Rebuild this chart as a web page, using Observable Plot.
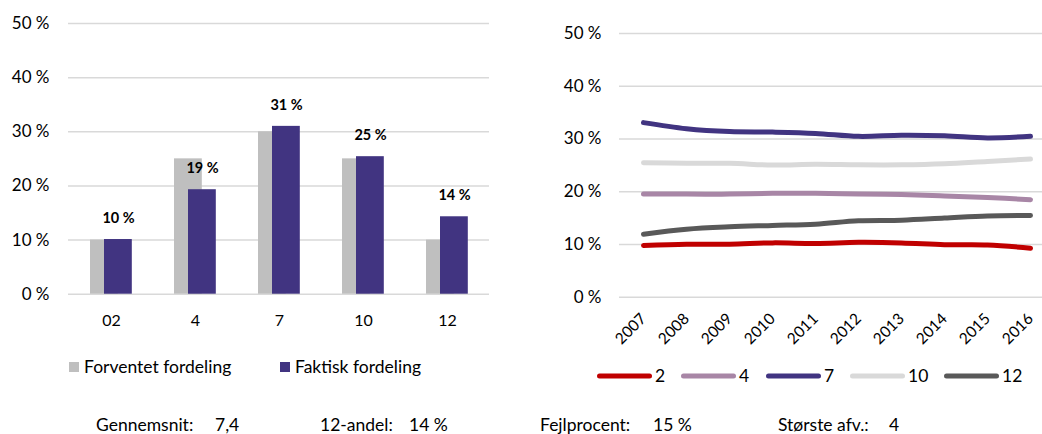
<!DOCTYPE html>
<html>
<head>
<meta charset="utf-8">
<script src="https://cdn.jsdelivr.net/npm/d3@7"></script>
<script src="https://cdn.jsdelivr.net/npm/@observablehq/plot@0.6"></script>
<style>
  html, body { margin: 0; padding: 0; background: #fff; }
  #wrap { position: relative; width: 1042px; height: 434px; overflow: hidden; font-family: Lato, "Noto Sans", sans-serif; color: #000; }
  .abs { position: absolute; }
  .txt { position: absolute; font-size: 17.5px; line-height: 1; white-space: nowrap; transform: translateY(-50%); }
  .sq { position: absolute; width: 10px; height: 10px; transform: translateY(-50%); }
  .ln { position: absolute; height: 5px; border-radius: 3px; transform: translateY(-50%); }
</style>
</head>
<body>
<div id="wrap"></div>
<script>
// ---------- data ----------
const grades = ["02", "4", "7", "10", "12"];
const expected = [10, 25, 30, 25, 10];
const actual = [10.1, 19.3, 31.0, 25.4, 14.3];
const actualLabels = ["10 %", "19 %", "31 %", "25 %", "14 %"];

const years = [2007, 2008, 2009, 2010, 2011, 2012, 2013, 2014, 2015, 2016];
const seriesNames = ["2", "4", "7", "10", "12"];
const s2 = [9.8, 10.05, 10.05, 10.3, 10.2, 10.4, 10.3, 9.95, 9.9, 9.3];
const s4 = [19.55, 19.55, 19.55, 19.7, 19.7, 19.55, 19.45, 19.2, 18.9, 18.5];
const s7 = [33.1, 31.95, 31.4, 31.3, 31.06, 30.5, 30.7, 30.6, 30.2, 30.5];
const s10 = [25.5, 25.4, 25.4, 25.05, 25.2, 25.1, 25.1, 25.3, 25.75, 26.2];
const s12 = [11.95, 12.9, 13.35, 13.6, 13.85, 14.5, 14.6, 15.0, 15.4, 15.5];
const yTicks = [0, 10, 20, 30, 40, 50];

const legendLeft = ["Forventet fordeling", "Faktisk fordeling"];
const footerLabels = ["Gennemsnit:", "12-andel:", "Fejlprocent:", "Største afv.:"];
const footerValues = ["7,4", "14 %", "15 %", "4"];

// ---------- styles ----------
const cGray = "#bfbfbf", cPurple = "#413481";
const lineColors = ["#c00000", "#a886a6", "#413481", "#d9d9d9", "#595959"];
const gridColor = "#d9d9d9";
const font = "Lato, 'Noto Sans', sans-serif";

const wrap = document.getElementById("wrap");

// ---------- left bar chart ----------
const barRows = grades.map((g, i) => ({g, exp: expected[i], act: actual[i], lab: actualLabels[i]}));
const left = Plot.plot({
  width: 500, height: 340,
  marginLeft: 68, marginRight: 11, marginTop: 23, marginBottom: 46.3,
  style: {fontFamily: font, fontSize: "16px", color: "#000", background: "transparent", overflow: "visible"},
  x: {domain: grades, padding: 0, label: null},
  y: {domain: [0, 50], label: null},
  marks: [
    Plot.ruleY(yTicks, {stroke: gridColor, strokeWidth: 1.5}),
    Plot.barY(barRows, {x: "g", y: "exp", fill: cGray, insetLeft: 21, insetRight: 35.2}),
    Plot.barY(barRows, {x: "g", y: "act", fill: cPurple, insetLeft: 35, insetRight: 21.2}),
    Plot.text(barRows, {x: "g", y: "act", text: "lab", dx: 7, dy: -21, fontWeight: "bold", fontSize: 14.5, fill: "#000"}),
    Plot.axisY(yTicks, {tickSize: 0, tickPadding: 19, tickFormat: d => d + " %", label: null, fontSize: 17}),
    Plot.axisX({tickSize: 0, tickPadding: 20, label: null, fontSize: 16})
  ]
});
left.classList.add("abs");
left.style.left = "0px"; left.style.top = "0px";
wrap.appendChild(left);

// ---------- right line chart ----------
const lineRows = [];
[s2, s4, s7, s10, s12].forEach((arr, k) => arr.forEach((v, i) => lineRows.push({year: years[i], v, s: seriesNames[k]})));
const right = Plot.plot({
  width: 502, height: 360,
  marginLeft: 79, marginRight: 0, marginTop: 33, marginBottom: 63.3,
  style: {fontFamily: font, fontSize: "16px", color: "#000", background: "transparent", overflow: "visible"},
  x: {type: "point", domain: years, range: [101.7, 491.7], padding: 0, label: null},
  y: {domain: [0, 50], label: null},
  color: {domain: seriesNames, range: lineColors},
  marks: [
    Plot.ruleY(yTicks, {stroke: gridColor, strokeWidth: 1.5}),
    Plot.lineY(lineRows, {x: "year", y: "v", z: "s", stroke: "s", strokeWidth: 5, curve: "catmull-rom", strokeLinecap: "round"}),
    Plot.axisY(yTicks, {tickSize: 0, tickPadding: 18, tickFormat: d => d + " %", label: null, fontSize: 17}),
    Plot.axisX({tickSize: 0, tickPadding: 19, tickRotate: -45, tickFormat: d => String(d), label: null, fontSize: 15.5})
  ]
});
right.classList.add("abs");
right.style.left = "540px"; right.style.top = "0px";
wrap.appendChild(right);

// ---------- legends ----------
function addText(t, x, y) {
  const d = document.createElement("div");
  d.className = "txt"; d.textContent = t;
  d.style.left = x + "px"; d.style.top = y + "px";
  wrap.appendChild(d);
}
[[69, cGray, 84], [280, cPurple, 295]].forEach(([sx, c, tx], i) => {
  const s = document.createElement("div");
  s.className = "sq"; s.style.left = sx + "px"; s.style.top = "367px"; s.style.background = c;
  wrap.appendChild(s);
  addText(legendLeft[i], tx, 367);
});
const lgX = [597, 681, 766, 850, 944];
seriesNames.forEach((n, i) => {
  const l = document.createElement("div");
  l.className = "ln"; l.style.left = lgX[i] + "px"; l.style.top = "376px"; l.style.width = "55px";
  l.style.background = lineColors[i];
  wrap.appendChild(l);
  addText(n, lgX[i] + 58, 376);
});

// ---------- footer ----------
const fLabX = [96, 320, 540, 778];
const fValX = [215, 409, 653, 889];
footerLabels.forEach((t, i) => { addText(t, fLabX[i], 425); addText(footerValues[i], fValX[i], 425); });
</script>
</body>
</html>
